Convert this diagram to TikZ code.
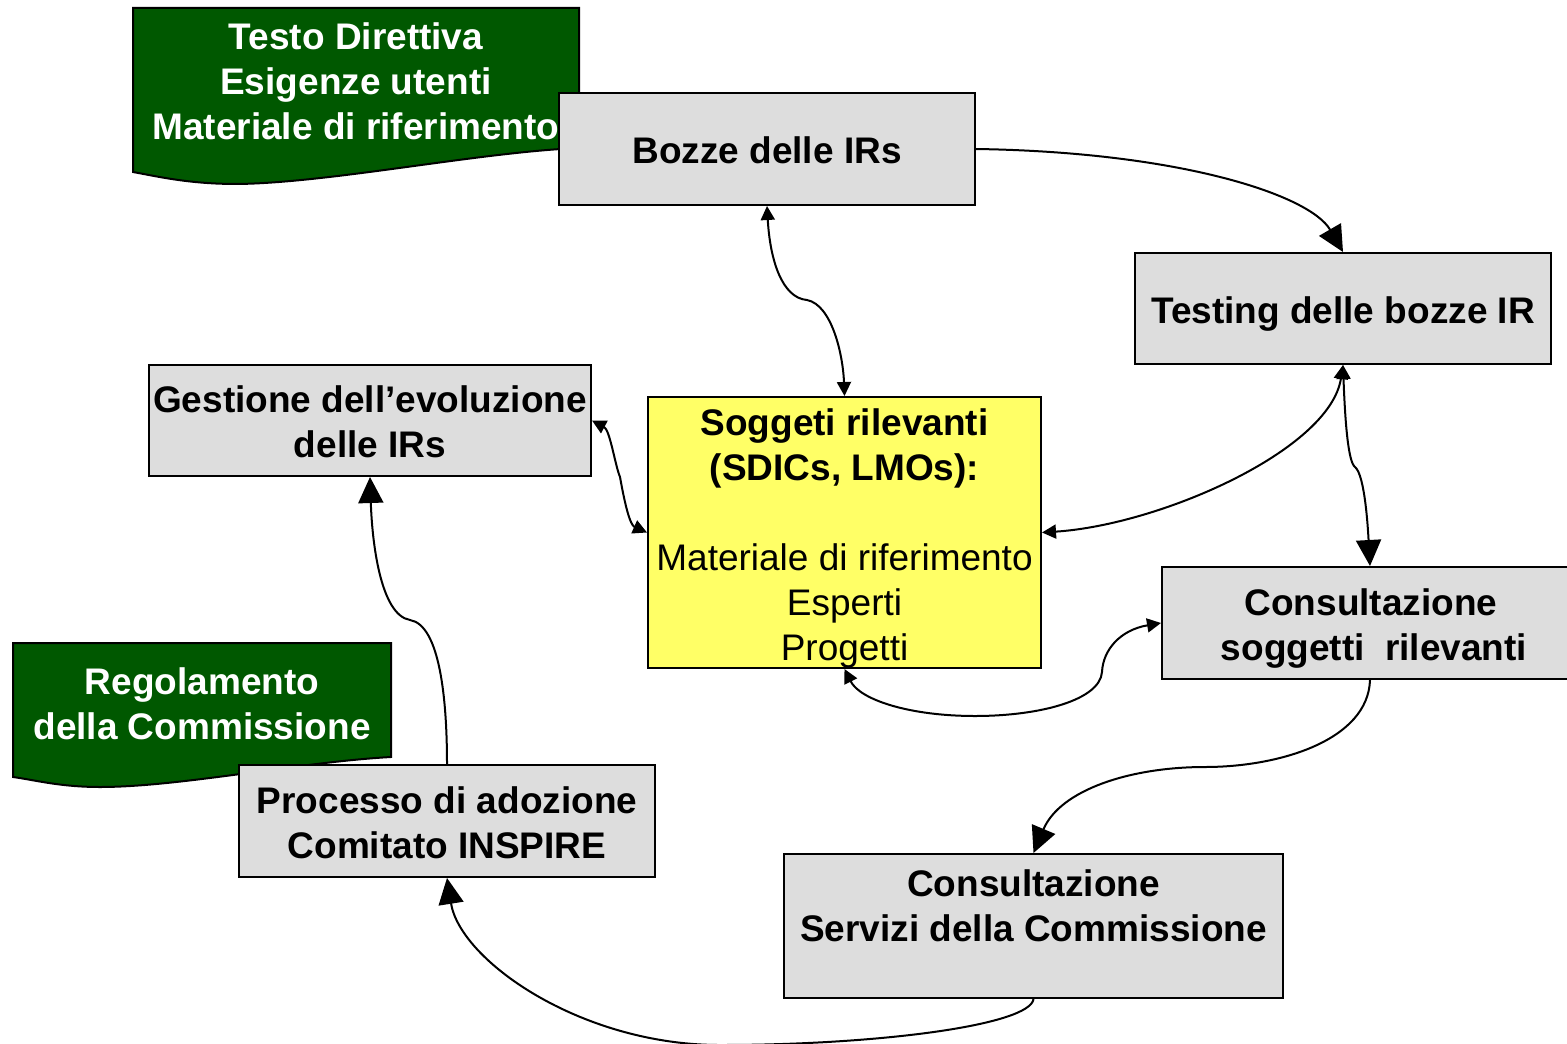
\documentclass[tikz,border=0pt]{standalone}
\usepackage{fontspec}
\setmainfont{Liberation Sans}
\usetikzlibrary{arrows.meta}
\definecolor{docgreen}{HTML}{005800}
\definecolor{boxgray}{HTML}{DDDDDD}
\definecolor{boxyellow}{HTML}{FFFF66}
\begin{document}
\begin{tikzpicture}[x=0.5pt,y=-0.5pt,
  every node/.style={font=\fontsize{18.5}{22.5}\selectfont\bfseries, align=center, inner sep=0pt},
  graybox/.style={draw=black, line width=1pt, fill=boxgray},
  yellowbox/.style={draw=black, line width=1pt, fill=boxyellow},
  docshape/.style={draw=black, line width=1pt, fill=docgreen},
  doctext/.style={text=white},
  conn/.style={line width=1pt},
  bigtip/.style={-{Triangle[length=13pt,width=12.5pt]}},
  smalltwo/.style={{Triangle[length=7pt,width=7pt]}-{Triangle[length=7pt,width=7pt]}},
  smallbig/.style={{Triangle[length=7pt,width=7pt]}-{Triangle[length=13pt,width=12.5pt]}}
]
\clip (0,0) rectangle (1567,1043);
\fill[white] (0,0) rectangle (1567,1043);

% document shapes
\draw[docshape] (133,8) -- (579,8) -- (579,148)
  .. controls (480,152) and (330,183) .. (237,184)
  .. controls (190,184) and (160,177) .. (133,172) -- cycle;
\node[doctext] (doc1) at (356,81) {Testo Direttiva\\Esigenze utenti\\Materiale di riferimento};

\draw[docshape] (13,643) -- (391,643) -- (391,757)
  .. controls (300,762) and (180,787) .. (100,787)
  .. controls (60,787) and (35,780) .. (13,777) -- cycle;
\node[doctext] (doc2) at (202,704) {Regolamento\\della Commissione};

% boxes
\node[graybox, minimum width=208pt, minimum height=56pt] (bozze) at (767,149) {};
\node (bozzeT) at (767,150) {Bozze delle IRs};
\node[graybox, minimum width=208pt, minimum height=55.5pt] (testing) at (1343,308.5) {};
\node (testingT) at (1343,314.5) {Testing delle bozze IR};
\node[graybox, minimum width=221pt, minimum height=55.5pt] (gest) at (370,420.5) {};
\node (gestT) at (370,421.5) {Gestione dell’evoluzione\\delle IRs};
\node[yellowbox, minimum width=196.5pt, minimum height=135.5pt] (sogg) at (844.5,532.5) {};
\node (soggT) at (844.5,538.5)
  {Soggeti rilevanti\\(SDICs, LMOs):\\\mbox{}\\{\mdseries Materiale di riferimento}\\{\mdseries Esperti}\\{\mdseries Progetti}};
\node[graybox, minimum width=208pt, minimum height=56pt] (consS) at (1370,623) {};
\node (consST) at (1371,629) {Consultazione\\\hspace*{3pt}soggetti\ \ rilevanti};
\node[graybox, minimum width=208pt, minimum height=56pt] (proc) at (447,821) {};
\node (procT) at (447,823) {Processo di adozione\\Comitato INSPIRE};
\node[graybox, minimum width=249.5pt, minimum height=72pt] (serv) at (1033.5,926) {};
\node (servT) at (1033.5,928) {Consultazione\\Servizi della Commissione\hspace*{4pt}\\\mbox{}};

% connectors
\draw[conn, bigtip] (bozze.east) .. controls (1180,152) and (1310,195) .. (testing.north);
\draw[conn, smalltwo] (bozze.south) .. controls (770,260) and (782,298) .. (807,300)
  .. controls (832,305) and (843,355) .. (sogg.north);
\draw[conn, smalltwo] (testing.south) .. controls (1330,450) and (1160,525) .. (sogg.east);
\draw[conn, smallbig] (testing.south) .. controls (1345,420) and (1348,462) .. (1355,467)
  .. controls (1365,475) and (1368,530) .. (consS.north);
\draw[conn, smalltwo] (gest.east) .. controls (610,430) and (615,465) .. (620,477)
  .. controls (625,505) and (630,525) .. (sogg.west);
\draw[conn, bigtip] (proc.north) .. controls (447,700) and (440,625) .. (410,620)
  .. controls (380,615) and (372,540) .. (gest.south);
\draw[conn, smalltwo] (consS.west) .. controls (1120,630) and (1103,650) .. (1102,672)
  .. controls (1100,700) and (1040,716) .. (975,716)
  .. controls (910,716) and (860,700) .. (sogg.south);
\draw[conn, bigtip] (consS.south) .. controls (1368,740) and (1280,767) .. (1205,767)
  .. controls (1130,767) and (1060,790) .. (serv.north);
\draw[conn, bigtip] (serv.south) .. controls (1030,1025) and (880,1045) .. (720,1045)
  .. controls (580,1045) and (460,960) .. (proc.south);
\end{tikzpicture}
\end{document}
